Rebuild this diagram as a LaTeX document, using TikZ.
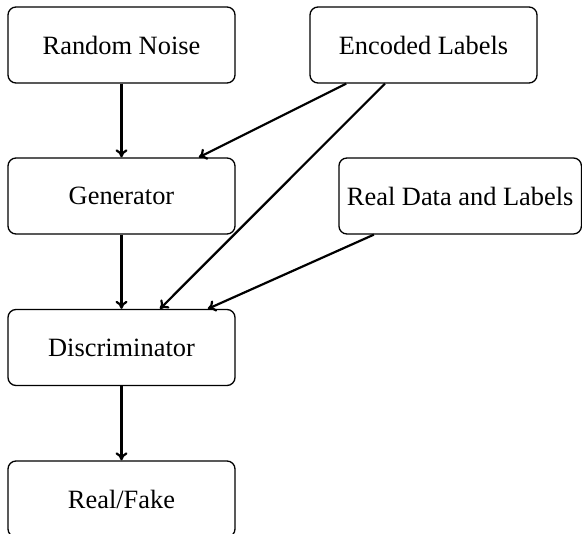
\documentclass[tikz,border=0pt]{standalone}
\usepackage{fontspec}
\setmainfont{Liberation Serif}
\usetikzlibrary{arrows.meta}
\begin{document}
\begin{tikzpicture}[x=1pt,y=-1pt,
  box/.style={draw, line width=1.3pt, rounded corners=8pt, minimum width=227pt, minimum height=76pt,
    inner xsep=8pt, font=\fontsize{26.4}{32}\selectfont},
  arr/.style={line width=2.2pt, -{To[length=8pt,width=12pt]}}]
\useasboundingbox (0,0) rectangle (582,534);
\node[box] (noise) at (121.5,45) {Random Noise};
\node[box] (enc) at (423.5,45) {Encoded Labels};
\node[box] (gen) at (121.5,196) {Generator};
\node[box] (real) at (460.2,196) {Real Data and Labels};
\node[box] (disc) at (121.5,347.5) {Discriminator};
\node[box] (out) at (121.5,499) {Real/Fake};
\draw[arr] (noise) -- (gen);
\draw[arr] (enc) -- (gen);
\draw[arr] (enc) -- (disc);
\draw[arr] (gen) -- (disc);
\draw[arr] (real) -- (disc);
\draw[arr] (disc) -- (out);
\end{tikzpicture}
\end{document}
